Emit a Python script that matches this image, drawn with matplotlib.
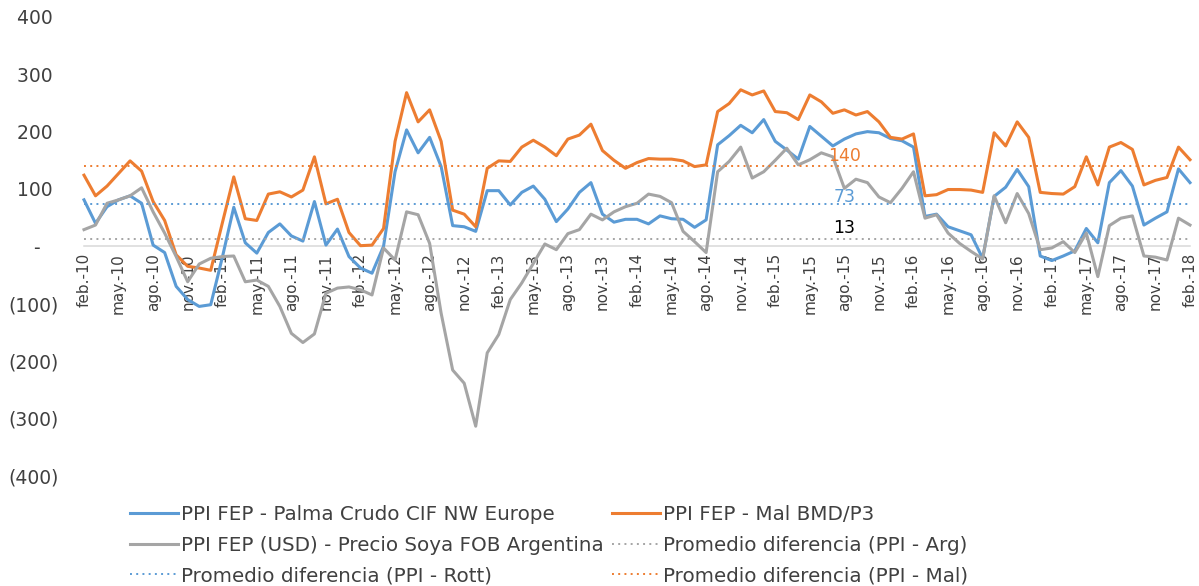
import numpy as np
import matplotlib.pyplot as plt

# PPI FEP - Palma Crudo CIF NW Europe (feb-10 .. feb-18, monthly)
palma = [81, 40, 69, 81, 88, 75, 2, -11, -70, -93, -105, -102, -20, 68, 6, -12, 24, 39, 18, 9,
         78, 2, 30, -18, -38, -47, 0, 130, 203, 163, 190, 139, 36, 34, 26, 97, 97, 72, 94, 105,
         82, 43, 65, 94, 111, 56, 42, 47, 47, 39, 53, 48, 47, 33, 46, 177, 193, 211, 198, 221,
         183, 168, 152, 209, 192, 175, 187, 196, 200, 198, 188, 184, 173, 52, 56, 34, 27, 20, -21, 87,
         103, 134, 104, -17, -25, -17, -8, 31, 6, 111, 132, 105, 37, 49, 60, 135, 111]

# PPI FEP - Mal BMD/P3
mal = [124, 88, 105, 127, 149, 131, 78, 45, -15, -35, -38, -42, 40, 121, 48, 45, 91, 95, 86, 98,
       156, 74, 82, 24, 1, 2, 31, 183, 268, 217, 238, 183, 63, 56, 34, 136, 149, 148, 173, 185,
       173, 158, 187, 194, 213, 167, 150, 136, 146, 153, 152, 152, 149, 139, 142, 235, 249, 273, 264, 271,
       235, 233, 221, 264, 252, 232, 238, 229, 235, 217, 190, 187, 196, 88, 90, 99, 99, 98, 94, 198,
       175, 217, 190, 94, 92, 91, 104, 156, 107, 173, 181, 169, 107, 115, 120, 173, 151]

# PPI FEP (USD) - Precio Soya FOB Argentina
soya = [29, 37, 75, 81, 88, 102, 60, 23, -18, -62, -31, -21, -18, -17, -62, -59, -70, -105, -152, -168,
        -153, -82, -73, -71, -76, -85, -3, -24, 60, 55, 5, -117, -216, -239, -314, -186, -154, -93, -64, -30,
        4, -6, 22, 29, 56, 46, 60, 69, 75, 91, 87, 76, 26, 8, -11, 130, 148, 173, 119, 130,
        150, 171, 142, 151, 163, 156, 101, 117, 111, 86, 76, 101, 130, 49, 55, 23, 5, -9, -22, 88,
        41, 92, 57, -6, -3, 8, -11, 23, -53, 36, 49, 53, -17, -19, -24, 49, 37]

# Promedios
avg_arg = 13
avg_rott = 73
avg_mal = 140

tick_labels = ['feb.-10', 'may.-10', 'ago.-10', 'nov.-10', 'feb.-11', 'may.-11', 'ago.-11', 'nov.-11',
               'feb.-12', 'may.-12', 'ago.-12', 'nov.-12', 'feb.-13', 'may.-13', 'ago.-13', 'nov.-13',
               'feb.-14', 'may.-14', 'ago.-14', 'nov.-14', 'feb.-15', 'may.-15', 'ago.-15', 'nov.-15',
               'feb.-16', 'may.-16', 'ago.-16', 'nov.-16', 'feb.-17', 'may.-17', 'ago.-17', 'nov.-17',
               'feb.-18']

BLUE = '#5B9BD5'
ORANGE = '#ED7D31'
GRAY = '#A5A5A5'
TXT = '#404040'

W, H = 1199, 586
fig = plt.figure(figsize=(W / 100, H / 100), dpi=100)
ax = fig.add_axes([84 / W, 1 - 475.5 / H, (1190 - 84) / W, (475.5 - 17) / H])

x = np.arange(len(palma))
l_palma, = ax.plot(x, palma, color=BLUE, lw=2.2, clip_on=False,
                   label='PPI FEP - Palma Crudo CIF NW Europe')
l_mal, = ax.plot(x, mal, color=ORANGE, lw=2.2, clip_on=False,
                 label='PPI FEP - Mal BMD/P3')
l_soya, = ax.plot(x, soya, color=GRAY, lw=2.2, clip_on=False,
                  label='PPI FEP (USD) - Precio Soya FOB Argentina')

dots = (0, (1, 2.2))
l_arg, = ax.plot(x, np.full(len(x), avg_arg), color=GRAY, lw=1.4, ls=dots,
                 label='Promedio diferencia (PPI - Arg)')
l_rott, = ax.plot(x, np.full(len(x), avg_rott), color=BLUE, lw=1.4, ls=dots,
                  label='Promedio diferencia (PPI - Rott)')
l_avgmal, = ax.plot(x, np.full(len(x), avg_mal), color=ORANGE, lw=1.4, ls=dots,
                    label='Promedio diferencia (PPI - Mal)')

# data labels on the average lines
for val, col, off in [(avg_mal, ORANGE, 7), (avg_rott, BLUE, 5.5), (avg_arg, 'black', 8)]:
    ax.annotate(str(val), (66, val), xytext=(0, off), textcoords='offset points',
                ha='center', va='center', fontsize=12.5, color=col)

ax.set_xlim(0, 96)
ax.set_ylim(-400, 400)

for side in ['top', 'right', 'left']:
    ax.spines[side].set_visible(False)
ax.spines['bottom'].set_position(('data', 0))
ax.spines['bottom'].set_color('#D9D9D9')
ax.spines['bottom'].set_linewidth(1.1)
ax.spines['bottom'].set_zorder(0)

ax.set_xticks(x[::3])
ax.set_xticklabels(tick_labels, rotation=90, fontsize=11, color=TXT)

yt = np.arange(-400, 401, 100)
ylabels = []
for v in yt:
    if v < 0:
        ylabels.append('(%d)' % -v)
    elif v == 0:
        ylabels.append('-   ')
    else:
        ylabels.append('%d ' % v)
ax.set_yticks(yt)
ax.set_yticklabels(ylabels, fontsize=13.5, color=TXT)
ax.tick_params(axis='x', length=0, pad=5)
ax.tick_params(axis='y', length=0, pad=18)

leg_kw = dict(loc='upper left', frameon=False, fontsize=14.3, handlelength=2.42,
              handletextpad=0.15, labelspacing=0.58, borderpad=0, borderaxespad=0,
              labelcolor=TXT)
fig.legend(handles=[l_palma, l_soya, l_rott], bbox_to_anchor=(130 / W, 1 - 505 / H), **leg_kw)
fig.legend(handles=[l_mal, l_arg, l_avgmal], bbox_to_anchor=(612 / W, 1 - 505 / H), **leg_kw)

fig.savefig('out.png', dpi=100)
